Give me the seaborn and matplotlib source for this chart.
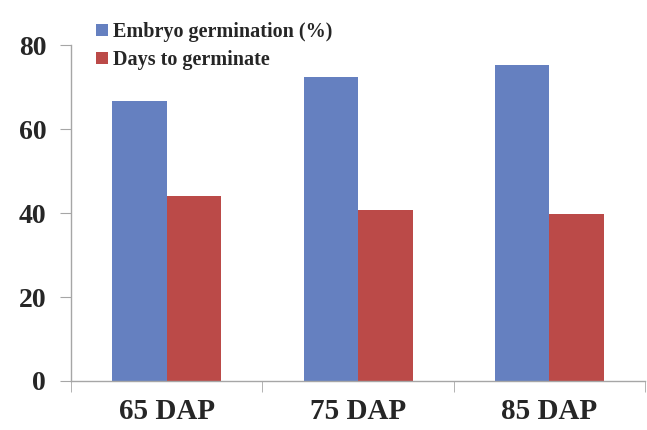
import pandas as pd
import matplotlib
matplotlib.use("Agg")
import matplotlib.pyplot as plt
import seaborn as sns

stages = ["65 DAP", "75 DAP", "85 DAP"]
germination = [66.7, 72.4, 75.2]
days = [44.0, 40.7, 39.8]
series_names = ["Embryo germination (%)", "Days to germinate"]

df = pd.DataFrame({
    "stage": stages * 2,
    "value": germination + days,
    "series": [series_names[0]] * 3 + [series_names[1]] * 3,
})

sns.set_style("white")
plt.rcParams["font.family"] = ["Liberation Serif", "DejaVu Serif"]
plt.rcParams["font.weight"] = "bold"

fig = plt.figure(figsize=(6.47, 4.30), dpi=100)
ax = fig.add_axes([0.11, 0.114, 0.887, 0.781])

sns.barplot(data=df, x="stage", y="value", hue="series",
            palette=["#6580c0", "#bb4a48"], saturation=1, width=0.57,
            ax=ax, errorbar=None, linewidth=0)

ax.set_xlim(-0.5, 2.5)
ax.set_ylim(0, 80)
ax.set_yticks([0, 20, 40, 60, 80])
ax.set_xlabel("")
ax.set_ylabel("")

for s in ["top", "right"]:
    ax.spines[s].set_visible(False)
for s in ["left", "bottom"]:
    ax.spines[s].set_color("#a6a6a6")
    ax.spines[s].set_linewidth(1.0)

ax.tick_params(axis="y", which="major", length=8, color="#a6a6a6",
               labelsize=20, pad=10, left=True)
ax.tick_params(axis="x", which="major", length=0, labelsize=21, pad=12)
ax.set_xticks([-0.5, 0.5, 1.5, 2.5], minor=True)
ax.tick_params(axis="x", which="minor", length=8, color="#a6a6a6", bottom=True)
for lab in ax.get_xticklabels() + ax.get_yticklabels():
    lab.set_fontweight("bold")

leg = ax.legend(loc="upper left", bbox_to_anchor=(0.03, 1.093), frameon=False,
                fontsize=14.5, handlelength=0.55, handleheight=0.55,
                handletextpad=0.25, labelspacing=0.4, borderaxespad=0)
for t in leg.get_texts():
    t.set_fontweight("bold")

fig.savefig("out.png", dpi=100)
